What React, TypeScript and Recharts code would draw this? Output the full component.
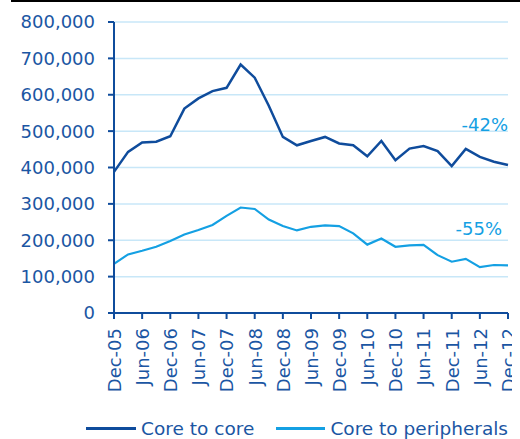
import React from 'react';
import {
  LineChart, Line, XAxis, YAxis, CartesianGrid, Legend, ReferenceDot
} from 'recharts';

// Trimestres desde Dec-05 hasta Dec-12
const quarters = [
  'Dec-05', 'Mar-06', 'Jun-06', 'Sep-06', 'Dec-06', 'Mar-07', 'Jun-07', 'Sep-07',
  'Dec-07', 'Mar-08', 'Jun-08', 'Sep-08', 'Dec-08', 'Mar-09', 'Jun-09', 'Sep-09',
  'Dec-09', 'Mar-10', 'Jun-10', 'Sep-10', 'Dec-10', 'Mar-11', 'Jun-11', 'Sep-11',
  'Dec-11', 'Mar-12', 'Jun-12', 'Sep-12', 'Dec-12'
];

const coreToCore = [
  388000, 443000, 469000, 471000, 486000, 562000, 590000, 610000,
  619000, 683000, 647000, 570000, 484000, 461000, 473000, 484000,
  466000, 461000, 431000, 473000, 420000, 452000, 459000, 445000,
  404000, 451000, 429000, 416000, 407000
];

const coreToPeripherals = [
  135000, 161000, 171000, 182000, 198000, 216000, 228000, 242000,
  267000, 290000, 286000, 257000, 239000, 227000, 237000, 241000,
  239000, 219000, 188000, 205000, 182000, 186000, 187000, 159000,
  141000, 149000, 126000, 132000, 131000
];

const yTicks = [0, 100000, 200000, 300000, 400000, 500000, 600000, 700000, 800000];

const DARK = '#0f4c9c';
const LIGHT = '#14a0e3';
const TEXT = '#1b56a3';
const GRID = '#c8e7f8';
const FONT = '"DejaVu Sans", Verdana, sans-serif';

const data = quarters.map((q, i) => ({
  q,
  core: coreToCore[i],
  periph: coreToPeripherals[i]
}));

const XTick = (props: any) => {
  const { x, y, payload } = props;
  return (
    <g transform={`translate(${x},${y})`}>
      <text
        x={0}
        y={0}
        dy="0.38em"
        transform="rotate(-90)"
        textAnchor="end"
        fill={TEXT}
        fontSize={18}
        fontFamily={FONT}
      >
        {payload.value}
      </text>
    </g>
  );
};

const renderLegend = () => (
  <div style={{ display: 'flex', alignItems: 'center', height: 22, paddingLeft: 78, fontFamily: FONT, fontSize: 18.5, color: TEXT, whiteSpace: 'nowrap' }}>
    <span style={{ display: 'inline-block', width: 51, height: 3, background: DARK, marginRight: 5 }} />
    <span style={{ marginRight: 22 }}>Core to core</span>
    <span style={{ display: 'inline-block', width: 50, height: 3, background: LIGHT, marginRight: 5 }} />
    <span>Core to peripherals</span>
  </div>
);

const App: React.FC = () => {
  return (
    <div style={{ width: 512, height: 431 }}>
      {/* línea negra superior, como fondo de la página */}
      <style>{'html { background: linear-gradient(#000, #000) 11px 0 / 509px 2px no-repeat #fff; }'}</style>
      <LineChart
        width={512}
        height={431}
        data={data}
        margin={{ top: 14, right: 12, bottom: 0, left: 0 }}
      >
        <CartesianGrid vertical={false} stroke={GRID} strokeWidth={1.5} />
        <XAxis
          dataKey="q"
          interval={1}
          height={104}
          tickSize={6}
          tickMargin={9}
          tick={<XTick />}
          axisLine={{ stroke: DARK, strokeWidth: 2 }}
          tickLine={{ stroke: DARK, strokeWidth: 2 }}
        />
        <YAxis
          width={106}
          domain={[0, 800000]}
          ticks={yTicks}
          tickFormatter={(v) => v.toLocaleString('en-US')}
          tickSize={6}
          tickMargin={13}
          tick={{ fill: TEXT, fontSize: 18, fontFamily: FONT }}
          axisLine={{ stroke: DARK, strokeWidth: 2 }}
          tickLine={{ stroke: DARK, strokeWidth: 2 }}
        />
        <Legend verticalAlign="bottom" height={22} content={renderLegend} />
        <Line
          type="linear"
          dataKey="core"
          name="Core to core"
          stroke={DARK}
          strokeWidth={2.5}
          dot={false}
          isAnimationActive={false}
        />
        <Line
          type="linear"
          dataKey="periph"
          name="Core to peripherals"
          stroke={LIGHT}
          strokeWidth={2.2}
          dot={false}
          isAnimationActive={false}
        />
        <ReferenceDot
          x="Dec-12"
          y={518000}
          r={0}
          fill="none"
          stroke="none"
          label={{ value: '-42%', position: 'left', offset: 0, fill: LIGHT, fontSize: 18, fontFamily: FONT }}
        />
        <ReferenceDot
          x="Dec-12"
          y={231000}
          r={0}
          fill="none"
          stroke="none"
          label={{ value: '-55%', position: 'left', offset: 6, fill: LIGHT, fontSize: 18, fontFamily: FONT }}
        />
      </LineChart>
    </div>
  );
};

export default App;
